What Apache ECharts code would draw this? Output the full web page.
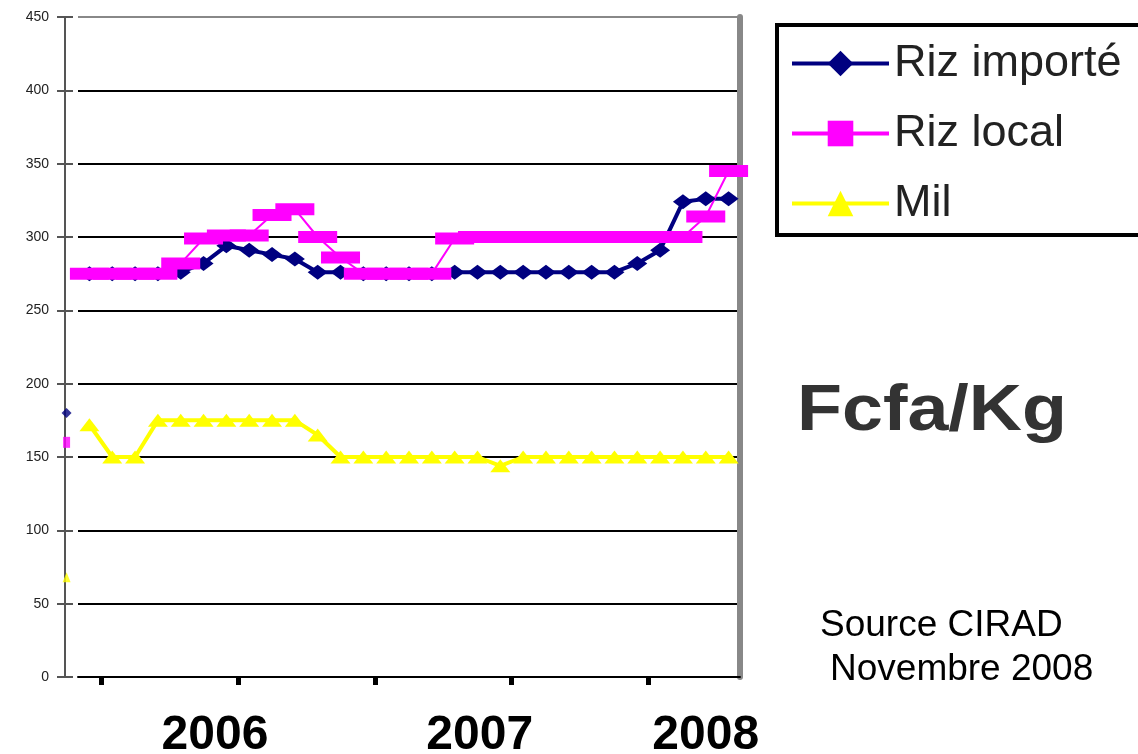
<!DOCTYPE html>
<html>
<head>
<meta charset="utf-8">
<script src="https://cdn.jsdelivr.net/npm/echarts@6/dist/echarts.min.js"></script>
<style>
  html, body { margin: 0; padding: 0; background: #fff; }
  #chart { width: 1138px; height: 754px; }
</style>
</head>
<body>
<div id="chart"></div>
<script>
  // prix par relevé (Fcfa/Kg)
  const rizImporte = [275, 275, 275, 275, 276, 282, 294, 291, 288, 285, 276, 276, 275, 275, 275, 275,
    276, 276, 276, 276, 276, 276, 276, 276, 282, 291, 324, 326, 326]
  const rizLocal = [275, 275, 275, 275, 282, 299, 301, 301, 315, 319, 300, 286, 275, 275, 275, 275,
    299, 300, 300, 300, 300, 300, 300, 300, 300, 300, 300, 314, 345]
  const mil = [172, 150, 150, 175, 175, 175, 175, 175, 175, 175, 165, 150, 150, 150, 150, 150,
    150, 150, 144, 150, 150, 150, 150, 150, 150, 150, 150, 150, 150]
  // points isolés posés sur l'axe vertical
  const premierImporte = 180
  const premierLocal = 160
  const premierMil = 68
  const years = ['2006', '2007', '2008']
  const yTicks = [0, 50, 100, 150, 200, 250, 300, 350, 400, 450]

  const font = '"Liberation Sans", Arial, sans-serif'
  const toPoints = arr => arr.map((v, i) => [i, v])
  const yearAt = [5.5, 17.1, 27]
  const tickAt = [0.5, 6.5, 12.5, 18.5, 24.5]

  const chart = echarts.init(document.getElementById('chart'))
  const option = {
    animation: false,
    backgroundColor: '#fff',
    grid: { left: 78, right: 398, top: 17, bottom: 77, outerBoundsMode: 'none' },
    legend: {
      data: ['Riz importé', 'Riz local', 'Mil'],
      orient: 'vertical',
      left: 777,
      top: 25,
      padding: [16, 60, 9, 13],
      itemWidth: 97,
      itemHeight: 32,
      itemGap: 25,
      borderColor: '#000',
      borderWidth: 4,
      lineStyle: { width: 4 },
      textStyle: { fontFamily: font, fontSize: 45, lineHeight: 42, color: '#222' }
    },
    xAxis: {
      type: 'value',
      min: -0.5,
      max: 28.5,
      axisLine: { onZero: false, lineStyle: { color: '#000', width: 2 } },
      axisTick: { customValues: tickAt, length: 8, lineStyle: { color: '#000', width: 5 } },
      axisLabel: {
        customValues: yearAt,
        formatter: v => years[yearAt.indexOf(v)],
        fontFamily: font, fontSize: 48, fontWeight: 'bold', color: '#000', margin: 35
      },
      splitLine: { show: false }
    },
    yAxis: [
      {
        type: 'value', position: 'left', min: yTicks[0], max: yTicks[yTicks.length - 1], interval: 50, offset: 13,
        axisLine: { show: true, onZero: false, lineStyle: { color: '#555', width: 2 } },
        axisTick: { show: true, length: 8, lineStyle: { color: '#555', width: 2 } },
        axisLabel: { fontFamily: font, fontSize: 14, color: '#222', margin: 16 },
        splitLine: {
          lineStyle: { width: 2, color: ['#000', '#000', '#000', '#000', '#000', '#000', '#000', '#000', '#000', '#888'] }
        }
      },
      {
        type: 'value', position: 'left', min: 0, max: 450, interval: 50, offset: 13,
        axisLine: { show: false, onZero: false },
        axisTick: { show: true, inside: true, length: 8, lineStyle: { color: '#555', width: 2 } },
        axisLabel: { show: false },
        splitLine: { show: false }
      },
      {
        type: 'value', position: 'right', min: 0, max: 450, interval: 50,
        axisLine: { show: true, onZero: false, lineStyle: { color: '#888', width: 6 } },
        axisTick: { show: false },
        axisLabel: { show: false },
        splitLine: { show: false }
      }
    ],
    series: [
      {
        name: 'Riz importé', type: 'line', data: toPoints(rizImporte),
        symbol: 'diamond', symbolSize: [20, 15],
        lineStyle: { color: '#000080', width: 4 },
        itemStyle: { color: '#000080' }
      },
      {
        name: 'Riz local', type: 'line', data: toPoints(rizLocal),
        symbol: 'rect', symbolSize: [39, 12],
        lineStyle: { color: '#ff00ff', width: 2 },
        itemStyle: { color: '#ff00ff' }
      },
      {
        name: 'Mil', type: 'line', data: toPoints(mil),
        symbol: 'triangle', symbolSize: [20, 13],
        lineStyle: { color: '#ffff00', width: 4 },
        itemStyle: { color: '#ffff00' }
      },
      {
        name: 'axe1', type: 'scatter', clip: false, data: [[-1, premierImporte]],
        symbol: 'diamond', symbolSize: 10, itemStyle: { color: '#000080' }
      },
      {
        name: 'axe2', type: 'scatter', clip: false, data: [[-1, premierLocal]],
        symbol: 'rect', symbolSize: [7, 11], itemStyle: { color: '#ff00ff' }
      },
      {
        name: 'axe3', type: 'scatter', clip: false, data: [[-1, premierMil]],
        symbol: 'triangle', symbolSize: [8, 10], itemStyle: { color: '#ffff00' }
      }
    ],
    graphic: [
      {
        type: 'text', x: 797, y: 412, scaleX: 1.15,
        style: { text: 'Fcfa/Kg', fontFamily: font, fontSize: 64, fontWeight: 'bold', fill: '#333', verticalAlign: 'middle' }
      },
      {
        type: 'text', x: 820, y: 626,
        style: { text: 'Source CIRAD', fontFamily: font, fontSize: 37, fill: '#000', verticalAlign: 'middle' }
      },
      {
        type: 'text', x: 830, y: 670,
        style: { text: 'Novembre 2008', fontFamily: font, fontSize: 37, fill: '#000', verticalAlign: 'middle' }
      }
    ]
  }
  chart.setOption(option)
  window.addEventListener('resize', () => chart.resize())
</script>
</body>
</html>
